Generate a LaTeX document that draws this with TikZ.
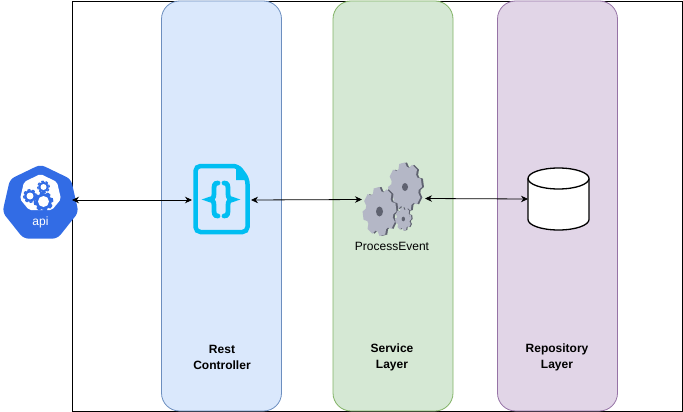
\documentclass[tikz,border=0pt]{standalone}
\usepackage{fontspec}
\setmainfont{Liberation Sans}
\usepackage{xcolor}
\usetikzlibrary{arrows.meta,shapes.geometric}
\definecolor{apiblue}{HTML}{326CE5}
\definecolor{docblue}{HTML}{00BEF2}
\definecolor{gearfill}{HTML}{B4B7C6}
\definecolor{gearedge}{HTML}{5F6270}
\definecolor{restfill}{HTML}{DAE8FC}
\definecolor{restline}{HTML}{6C8EBF}
\definecolor{servicefill}{HTML}{D5E8D4}
\definecolor{serviceline}{HTML}{82B366}
\definecolor{repofill}{HTML}{E1D5E7}
\definecolor{repoline}{HTML}{9673A6}
\begin{document}
\begin{tikzpicture}[
  x=1pt,y=-1pt,
  line width=0.8pt,
  every node/.style={font=\fontsize{12}{14}\selectfont},
  lane/.style={draw,rounded corners=18pt,minimum width=120pt,minimum height=410pt,inner sep=0pt},
  lanetext/.style={font=\fontsize{12}{16}\selectfont\bfseries,align=center},
  biarrow/.style={{Stealth[length=7pt,width=6.5pt]}-{Stealth[length=7pt,width=6.5pt]},line width=0.8pt},
  bracepath/.style={docblue,line width=4.8pt,line cap=round},
  gearshape/.pic={
    \foreach \a in {0,45,...,315}
      \fill[pic actions,rotate=\a+10] (-0.3,-0.9) -- (-0.2,-1.15) -- (0.2,-1.15) -- (0.3,-0.9) -- cycle;
    \fill[pic actions] (0,0) circle (0.96);
  }
]
  \useasboundingbox (0,0) rectangle (683,412);
  % Outer frame and the three layers.
  \node[draw,minimum width=610pt,minimum height=410pt,inner sep=0pt] (frame) at (377,206) {};
  \node[lane,fill=restfill,draw=restline] (rest) at (221.5,206) {};
  \node[lane,fill=servicefill,draw=serviceline] (service) at (393,206) {};
  \node[lane,fill=repofill,draw=repoline] (repo) at (557.5,206) {};
  \node[lanetext] (resttext) at (222,357) {Rest\\Controller};
  \node[lanetext] (servicetext) at (392,357) {Service\\Layer};
  \node[lanetext] (repotext) at (557,357) {Repository\\Layer};

  % Api badge.
  \node[regular polygon,regular polygon sides=7,fill=apiblue,rounded corners=5pt,minimum size=78pt,inner sep=0pt] (api) at (40.5,203.5) {};
  \fill[white,rounded corners=2pt] (40.5,174) -- (57,182) -- (61,199) -- (52,210) -- (29,210) -- (20,199) -- (24,182) -- cycle;
  \pic[fill=apiblue,scale=8.5] at (43.5,201.5) {gearshape};
  \pic[fill=apiblue,scale=6] at (30,196) {gearshape};
  \pic[fill=apiblue,scale=5.5] at (43.5,187) {gearshape};
  \fill[white] (43.5,201.5) circle (5.5) (30,196) circle (3.5) (43.5,187) circle (3);
  \node[text=white] (apitext) at (40.5,222) {api};
  \coordinate (apiend) at (72,200);

  % Rest controller document.
  \coordinate (docleft) at (192,200);
  \coordinate (docright) at (251,200);
  \draw[docblue,line width=4.5pt,rounded corners=5pt] (195.5,166) -- (238,166) -- (247.5,179) -- (247.5,232) -- (195.5,232) -- cycle;
  \fill[docblue] (236,166) -- (248,180) -- (236,180) -- cycle;
  \draw[bracepath] (218,183) .. controls (214,183) and (214,186) .. (214,190) -- (214,194) .. controls (214,198) and (212,199.5) .. (209,199.5) .. controls (212,199.5) and (214,201) .. (214,205) -- (214,209) .. controls (214,213) and (214,216) .. (218,216);
  \draw[bracepath] (224,183) .. controls (228,183) and (228,186) .. (228,190) -- (228,194) .. controls (228,198) and (230,199.5) .. (233,199.5) .. controls (230,199.5) and (228,201) .. (228,205) -- (228,209) .. controls (228,213) and (228,216) .. (224,216);

  % Gears.
  \pic[fill=gearedge,xscale=14.5,yscale=21] at (407,187) {gearshape};
  \pic[fill=gearfill,xscale=14.5,yscale=21] at (405,187) {gearshape};
  \fill[gearedge] (405,187) ellipse (3 and 4);
  \pic[fill=gearedge,xscale=14.5,yscale=21] at (381.5,211.5) {gearshape};
  \pic[fill=gearfill,xscale=14.5,yscale=21] at (379.5,211.5) {gearshape};
  \fill[gearedge] (379.5,211.5) ellipse (3.5 and 5);
  \pic[fill=gearedge,xscale=7,yscale=10] at (404.5,219) {gearshape};
  \pic[fill=gearfill,xscale=7,yscale=10] at (403.3,219) {gearshape};
  \fill[gearedge] (403.3,219) ellipse (1.7 and 2.3);
  \coordinate (gearleft) at (362,199.5);
  \coordinate (gearright) at (425,198.5);
  \node (gearlabel) at (392,246.5) {ProcessEvent};

  % Database.
  \draw[fill=white,line width=1.3pt] (528,178.5) -- (528,219.5) arc[start angle=180,end angle=0,x radius=30.5,y radius=10.5] -- (589,178.5);
  \draw[fill=white,line width=1.3pt] (558.5,178.5) ellipse (30.5 and 10.5);
  \coordinate (db) at (528,199);

  \draw[biarrow] (apiend) -- (docleft);
  \draw[biarrow] (docright) -- (gearleft);
  \draw[biarrow] (gearright) -- (db);
\end{tikzpicture}
\end{document}
